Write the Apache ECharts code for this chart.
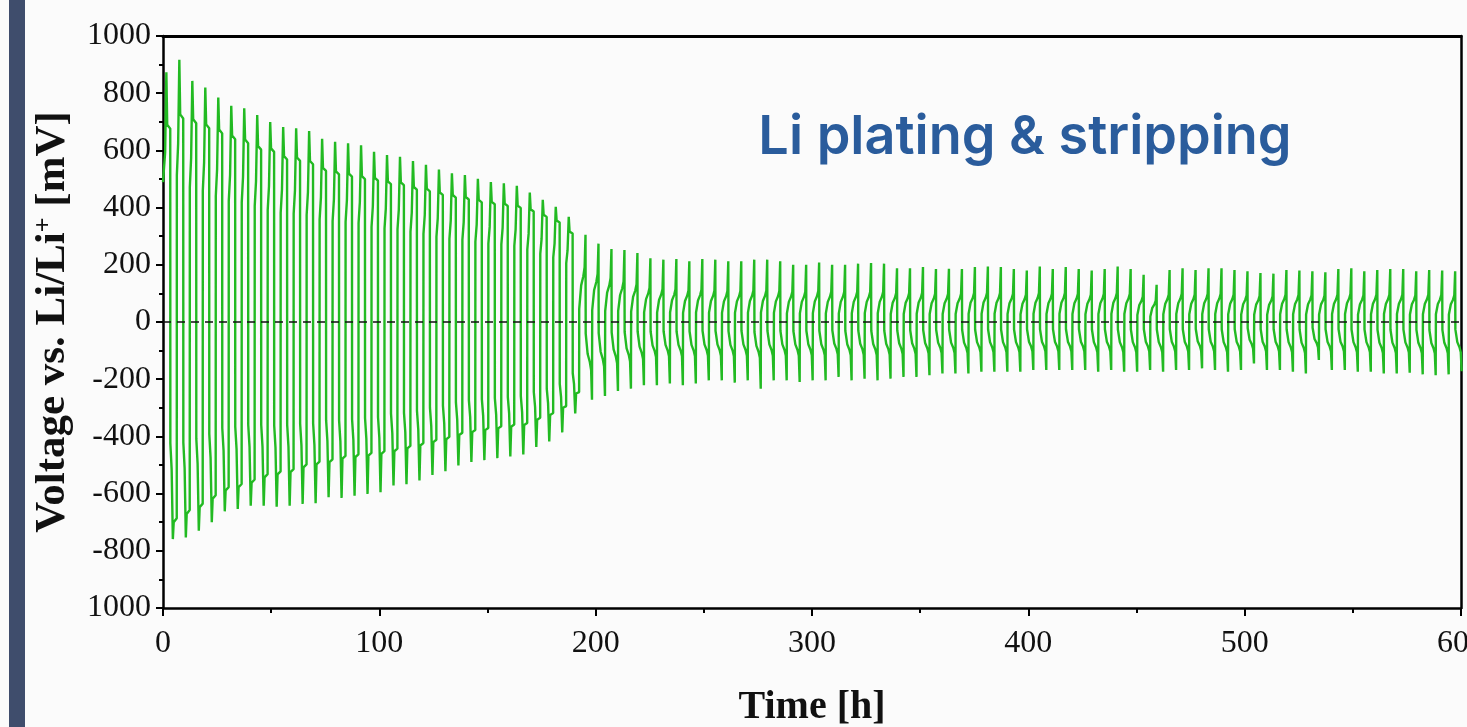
<!DOCTYPE html>
<html>
<head>
<meta charset="utf-8">
<script src="https://cdn.jsdelivr.net/npm/echarts@6/dist/echarts.min.js"></script>
<style>
html,body{margin:0;padding:0;background:#fbfbfb;}
#chart{width:1467px;height:727px;}
</style>
</head>
<body>
<div id="chart"></div>
<script>
// ---- Data (one value per 6 h cycle, mV) ----
const posPeak = [873,917,843,820,785,756,747,724,699,682,677,668,641,630,625,618,595,584,578,563,
  550,533,520,514,501,489,485,476,453,427,403,368,305,274,255,252,241,223,218,220,
  212,220,218,212,212,218,218,212,200,200,208,200,200,204,206,204,188,188,192,185,
  186,185,192,194,192,185,180,194,185,192,185,180,185,194,185,165,130,182,188,182,
  188,188,182,177,171,169,182,180,177,174,185,188,177,182,185,185,177,182,180,177];
const posMid = [690,726,709,691,673,652,638,615,607,580,575,563,539,527,519,510,504,492,488,472,
  466,453,444,437,427,420,414,407,394,375,355,316,160,140,128,118,110,100,96,95,
  92,94,92,90,90,92,92,90,88,88,90,88,88,88,88,88,84,84,85,82,
  82,82,84,85,84,82,80,84,82,84,82,80,82,84,82,74,62,80,82,80,
  82,82,80,78,76,75,80,79,78,77,80,82,78,80,80,80,78,80,79,78];
const negPeak = [-759,-753,-730,-700,-662,-654,-642,-642,-646,-642,-636,-634,-613,-615,-607,-601,-595,-572,-567,-554,
  -535,-522,-502,-489,-483,-476,-470,-463,-437,-418,-386,-320,-272,-259,-241,-233,-221,-221,-215,-221,
  -215,-204,-204,-212,-204,-233,-204,-204,-210,-204,-204,-192,-204,-198,-204,-198,-192,-192,-186,-180,
  -180,-180,-174,-174,-174,-174,-168,-168,-168,-168,-168,-174,-168,-174,-174,-168,-174,-168,-168,-162,
  -168,-174,-168,-145,-168,-168,-174,-180,-133,-168,-168,-174,-174,-180,-180,-177,-183,-186,-183,-172];
const negMid = [-700,-671,-648,-618,-589,-578,-562,-543,-533,-525,-508,-498,-490,-478,-472,-467,-461,-452,-442,-432,
  -420,-410,-395,-385,-378,-372,-366,-360,-342,-325,-300,-250,-140,-130,-120,-115,-108,-102,-100,-100,
  -100,-98,-98,-100,-98,-104,-98,-98,-98,-97,-97,-94,-97,-95,-96,-95,-93,-93,-92,-90,
  -90,-90,-88,-88,-88,-88,-86,-86,-86,-86,-86,-88,-86,-88,-88,-86,-88,-86,-86,-84,
  -86,-88,-86,-78,-86,-86,-88,-90,-74,-86,-86,-88,-88,-90,-90,-89,-91,-92,-91,-88];
const xTickValues = [0,100,200,300,400,500,600];
const yTickValues = [-1000,-800,-600,-400,-200,0,200,400,600,800,1000];

// ---- Build the galvanostatic waveform from the per-cycle values ----
const CYCLE_H = 6, HALF_H = 3, START_H = 0.4, LATE_FROM_H = 192;
function halfCycle(out, ts, peak, mid) {
  if (ts < LATE_FROM_H) {
    out.push([ts, 0.56 * peak], [ts + 0.6, 0.68 * peak], [ts + 1.15, peak],
             [ts + 1.55, mid], [ts + 2.95, 0.98 * mid]);
  } else {
    out.push([ts, 0.15 * peak], [ts + 0.9, 0.8 * mid], [ts + 1.9, mid],
             [ts + 2.5, 1.2 * mid], [ts + 2.9, peak]);
  }
}
const voltage = [[0, 0.56 * posPeak[0]]];
for (let k = 0; k < posPeak.length; k++) {
  const ts = k * CYCLE_H + START_H;
  halfCycle(voltage, ts, posPeak[k], posMid[k]);
  halfCycle(voltage, ts + HALF_H, negPeak[k], negMid[k]);
}

const serif = 'Liberation Serif';
const chart = echarts.init(document.getElementById('chart'), null, {renderer: 'canvas'});
chart.setOption({
  backgroundColor: '#fbfbfb',
  animation: false,
  graphic: [
    {type: 'rect', left: 9, top: 0, shape: {width: 16, height: 727}, style: {fill: '#3f4d6c'}, z: 10}
  ],
  title: {
    text: 'Li plating & stripping',
    left: 1020, top: 106, textAlign: 'center',
    textStyle: {fontFamily: 'Inter', fontWeight: 600, fontSize: 54, color: '#2a5c9c'}
  },
  grid: {left: 163, right: 6, top: 36, bottom: 119, containLabel: false, outerBoundsMode: 'none'},
  xAxis: [{
    type: 'value', min: 0, max: 600, interval: 100,
    name: 'Time [h]', nameLocation: 'middle', nameGap: 80,
    nameTextStyle: {fontFamily: serif, fontWeight: 'bold', fontSize: 40, color: '#111'},
    axisLine: {show: true, onZero: false, lineStyle: {color: '#000', width: 2.5}},
    axisTick: {show: true, length: 8, lineStyle: {color: '#000', width: 2}},
    minorTick: {show: true, splitNumber: 2, length: 5, lineStyle: {color: '#000', width: 2}},
    axisLabel: {fontFamily: serif, fontSize: 32, color: '#111', margin: 20,
      formatter: v => xTickValues.includes(v) ? String(v) : ''},
    splitLine: {show: false}
  }, {
    type: 'value', position: 'top', min: 0, max: 600,
    axisLine: {show: true, onZero: false, lineStyle: {color: '#000', width: 3}},
    axisTick: {show: false}, axisLabel: {show: false}, splitLine: {show: false}
  }],
  yAxis: [{
    type: 'value', min: -1000, max: 1000, interval: 200,
    name: 'Voltage vs. Li/Li{sup|+} [mV]', nameLocation: 'middle', nameGap: 88, nameRotate: 90,
    nameTextStyle: {fontFamily: serif, fontWeight: 'bold', fontSize: 43, color: '#111',
      rich: {sup: {fontFamily: serif, fontWeight: 'bold', fontSize: 26, color: '#111', verticalAlign: 'top', padding: [0, 0, 18, 0]}}},
    axisLine: {show: true, onZero: false, lineStyle: {color: '#000', width: 2.5}},
    axisTick: {show: true, length: 7, lineStyle: {color: '#000', width: 2}},
    minorTick: {show: true, splitNumber: 2, length: 4, lineStyle: {color: '#000', width: 2}},
    axisLabel: {fontFamily: serif, fontSize: 32, color: '#111', margin: 12,
      formatter: v => yTickValues.includes(v) ? (v === -1000 ? '1000' : String(v)) : ''},
    splitLine: {show: false}
  }, {
    type: 'value', position: 'right', min: -1000, max: 1000,
    axisLine: {show: true, onZero: false, lineStyle: {color: '#000', width: 2.5}},
    axisTick: {show: false}, axisLabel: {show: false}, splitLine: {show: false}
  }],
  series: [{
    type: 'line', xAxisIndex: 0, yAxisIndex: 0,
    data: voltage, showSymbol: false, symbol: 'none', clip: true,
    lineStyle: {color: '#22ba22', width: 2.4},
    markLine: {
      silent: true, symbol: 'none', label: {show: false},
      lineStyle: {color: '#111', type: [8, 6], width: 1.6},
      data: [{yAxis: 0}]
    }
  }]
});
</script>
</body>
</html>
